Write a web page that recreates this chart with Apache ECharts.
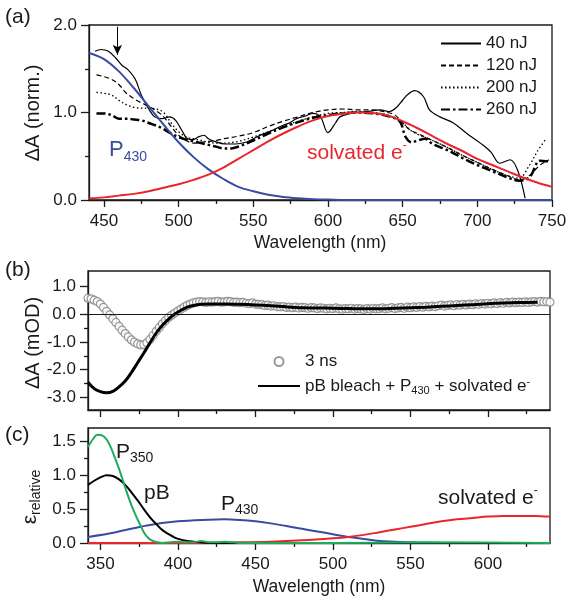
<!DOCTYPE html>
<html><head><meta charset="utf-8">
<script src="https://cdn.jsdelivr.net/npm/echarts@6/dist/echarts.min.js"></script>
<style>html,body{margin:0;padding:0;background:#fff}#c{width:570px;height:601px}</style>
</head><body><div id="c"></div>
<script>
const FONT = '"Liberation Sans", Arial, Helvetica, sans-serif';
const BLUE = '#3a4ba2', RED = '#e8262b', GREEN = '#1eab5c', INK = '#1a1a1a';

// ---------- Panel (a) ----------
const x40 = [444,448,453,458,462,466,471,475,480,484,489,494,498,502,506,510,513,517,520,524,531,538,545,550,556,562,568,574,579,585,590,595,600,605,608,615,620,626,635,641,646,650,653,658,664,668,675,684,693,702,709,715,722,727,732];
const y40 = [1.70,1.72,1.70,1.62,1.54,1.49,1.38,1.20,1.04,0.95,0.93,0.95,0.91,0.80,0.70,0.69,0.72,0.74,0.70,0.67,0.64,0.64,0.66,0.70,0.75,0.79,0.84,0.88,0.93,0.96,0.99,0.95,0.77,0.88,0.95,0.99,1.00,1.01,1.03,1.01,1.06,1.14,1.20,1.25,1.18,1.03,0.95,0.88,0.76,0.65,0.55,0.42,0.46,0.34,0.02];
const x120 = [445,450,455,460,465,470,475,480,485,490,495,500,505,510,515,520,525,530,540,550,560,570,580,590,600,610,620,630,640,645,650,655,660,670,680,690,700,710,720,728,735,742,748];
const y120 = [1.43,1.41,1.38,1.32,1.22,1.16,1.11,1.07,1.02,0.95,0.84,0.74,0.68,0.65,0.66,0.67,0.68,0.70,0.73,0.77,0.84,0.90,0.95,1.00,1.03,1.04,1.03,1.03,1.00,0.97,0.88,0.80,0.76,0.68,0.60,0.51,0.43,0.35,0.28,0.23,0.28,0.40,0.46];
const x200 = [445,450,455,460,465,470,475,480,485,490,495,500,505,510,515,520,525,530,540,550,560,570,580,590,600,610,620,630,640,650,655,660,670,680,690,700,710,720,728,735,740,746];
const y200 = [1.23,1.22,1.20,1.14,1.09,1.06,1.05,1.05,1.04,1.00,0.88,0.78,0.72,0.70,0.68,0.66,0.65,0.65,0.67,0.72,0.78,0.84,0.90,0.95,0.99,1.00,1.01,1.00,0.97,0.88,0.80,0.75,0.68,0.60,0.51,0.43,0.35,0.28,0.25,0.40,0.55,0.70];
const x260 = [445,450,455,460,465,470,475,480,485,490,495,500,505,510,515,520,525,530,535,540,550,560,570,580,590,600,610,620,630,640,648,652,656,660,665,670,680,690,700,710,720,728,735,742,748];
const y260 = [0.99,0.99,0.97,0.93,0.93,0.92,0.91,0.88,0.85,0.81,0.76,0.72,0.69,0.67,0.65,0.63,0.61,0.59,0.59,0.61,0.68,0.76,0.83,0.89,0.94,0.97,0.99,1.00,0.99,0.96,0.90,0.72,0.66,0.68,0.70,0.64,0.57,0.48,0.40,0.33,0.26,0.22,0.26,0.45,0.44];
const xP430a = [440,450,460,470,480,490,500,510,520,530,540,550,560,570,580,590,600,620,650,750];
const yP430a = [1.68,1.61,1.47,1.28,1.07,0.86,0.66,0.49,0.35,0.24,0.15,0.10,0.06,0.035,0.02,0.01,0.005,0,0,0];
const xEa = [440,450,460,470,480,490,500,510,520,530,540,550,560,570,580,590,600,610,620,630,640,650,660,670,680,690,700,710,720,730,740,750];
const yEa = [0.02,0.03,0.05,0.07,0.10,0.14,0.18,0.23,0.29,0.37,0.47,0.57,0.67,0.76,0.84,0.91,0.96,0.985,1.0,0.995,0.965,0.90,0.82,0.73,0.64,0.56,0.47,0.40,0.33,0.26,0.20,0.15];
const arrowX = 459;
const arrowY = [1.98, 1.66];
const legendA = ['40 nJ','120 nJ','200 nJ','260 nJ'];

// ---------- Panel (b) ----------
const x3ns = [342,344,346,348,350,352,354,356,358,360,
  362,364,366,368,370,372,374,376,378,380,
  382,384,386,388,390,392,394,396,398,400,
  402,404,406,408,410,412,414,416,418,420,
  422,424,426,428,430,432,434,436,438,440,
  442,444,446,448,450,452,454,456,458,460,
  462,464,466,468,470,472,474,476,478,480,
  482,484,486,488,490,492,494,496,498,500,
  502,504,506,508,510,512,514,516,518,520,
  522,524,526,528,530,532,534,536,538,540,
  542,544,546,548,550,552,554,556,558,560,
  562,564,566,568,570,572,574,576,578,580,
  582,584,586,588,590,592,594,596,598,600,
  602,604,606,608,610,612,614,616,618,620,
  622,624,626,628,630,632,634,636,638,640];
const y3ns = [0.57,0.55,0.50,0.45,0.36,0.24,0.10,-0.03,-0.17,-0.30,
  -0.44,-0.58,-0.70,-0.82,-0.93,-1.01,-1.07,-1.11,-1.10,-1.03,
  -0.91,-0.77,-0.62,-0.48,-0.35,-0.23,-0.12,-0.04,0.04,0.11,
  0.18,0.25,0.31,0.36,0.40,0.43,0.45,0.44,0.42,0.44,
  0.43,0.45,0.46,0.43,0.44,0.46,0.45,0.42,0.43,0.41,
  0.42,0.39,0.38,0.40,0.36,0.35,0.34,0.31,0.32,0.29,
  0.30,0.27,0.26,0.27,0.24,0.25,0.23,0.25,0.22,0.24,
  0.23,0.21,0.23,0.22,0.20,0.22,0.21,0.19,0.21,0.20,
  0.22,0.19,0.18,0.20,0.19,0.21,0.18,0.20,0.19,0.17,
  0.20,0.18,0.21,0.19,0.20,0.22,0.19,0.21,0.23,0.20,
  0.22,0.24,0.21,0.25,0.23,0.26,0.24,0.27,0.25,0.28,
  0.26,0.29,0.27,0.30,0.32,0.29,0.31,0.33,0.30,0.34,
  0.32,0.35,0.33,0.36,0.34,0.37,0.35,0.38,0.36,0.39,
  0.37,0.40,0.38,0.41,0.39,0.42,0.40,0.43,0.41,0.43,
  0.42,0.44,0.42,0.44,0.45,0.43,0.46,0.44,0.45,0.43];
const xFit = [342,346,350,354,358,362,366,370,374,378,382,386,390,394,398,402,406,410,415,420,430,440,450,460,470,480,490,500,510,520,530,540,550,560,570,580,590,600,610,620,632];
const yFit = [-2.45,-2.68,-2.79,-2.83,-2.78,-2.62,-2.41,-2.10,-1.75,-1.40,-1.03,-0.68,-0.40,-0.18,0.00,0.14,0.25,0.31,0.35,0.36,0.36,0.35,0.33,0.30,0.26,0.23,0.22,0.21,0.20,0.19,0.19,0.21,0.23,0.25,0.28,0.31,0.34,0.37,0.40,0.42,0.43];

// ---------- Panel (c) ----------
const xP350 = [342,345,348,351,354,357,360,363,366,369,372,375,378,381,384,387,390,395,400,405,410,415,420,425,430,440,460,500,560,640];
const yP350 = [1.42,1.53,1.60,1.59,1.53,1.40,1.22,1.03,0.82,0.62,0.45,0.30,0.16,0.07,0.03,0.01,0.00,0.01,0.02,0.01,0.01,0.03,0.01,0.01,0.02,0.00,0.00,0.00,0.01,0.00];
const xPB = [342,346,350,354,358,362,366,370,374,378,382,386,390,394,398,402,406,410,415,420,430,640];
const yPB = [0.86,0.92,0.97,1.00,0.99,0.94,0.86,0.75,0.63,0.50,0.38,0.28,0.19,0.13,0.08,0.05,0.03,0.02,0.01,0.00,0.00,0.00];
const xP430c = [342,360,380,400,420,430,440,450,460,470,480,490,500,510,520,530,540,550,560,580,600,640];
const yP430c = [0.09,0.16,0.26,0.32,0.345,0.35,0.34,0.32,0.29,0.25,0.21,0.17,0.13,0.09,0.06,0.03,0.02,0.01,0.005,0,0,0];
const xEc = [342,400,440,460,480,500,510,520,530,540,550,560,570,580,590,600,610,620,630,640];
const yEc = [0.0,0.0,0.01,0.02,0.04,0.07,0.09,0.12,0.16,0.20,0.24,0.28,0.32,0.35,0.37,0.39,0.40,0.40,0.40,0.39];

// ---------- Ticks ----------
const xMajorA = [450,500,550,600,650,700,750];
const xMinorA = [475,525,575,625,675,725];
const xMajorBC = [350,400,450,500,550,600];
const xMinorBC = [375,425,475,525,575,625];
const yMajorA = [0,1,2], yMinorA = [0.5,1.5];
const yMajorB = [-3,-2,-1,0,1], yMinorB = [-2.5,-1.5,-0.5,0.5];
const yMajorC = [0,0.5,1,1.5], yMinorC = [0.25,0.75,1.25];

const zip = (xs, ys) => xs.map((x, i) => [x, ys[i]]);

function axisPair(grid, min, max, major, minor, labels, fmt, isY) {
  const tickLen = isY ? 8 : 7;
  const pos = isY ? 'left' : 'bottom';
  const main = {
    type: 'value', gridIndex: grid, min: min, max: max, position: pos,
    axisLine: {show: true, onZero: false, lineStyle: {color: INK, width: 1.3}},
    axisTick: {show: true, customValues: major, length: tickLen, lineStyle: {color: INK, width: 1.3}},
    axisLabel: {show: labels, customValues: major, margin: isY ? 12 : 13, fontSize: 17, color: INK, fontFamily: FONT, formatter: fmt},
    splitLine: {show: false}
  };
  const sub = {
    type: 'value', gridIndex: grid, min: min, max: max, position: pos,
    axisLine: {show: false, onZero: false},
    axisTick: {show: true, customValues: minor, length: 4, lineStyle: {color: INK, width: 1.3}},
    axisLabel: {show: false},
    splitLine: {show: false}
  };
  return [main, sub];
}
const f1 = v => v.toFixed(1);
const f0 = v => String(v);

const xAxes = [].concat(
  axisPair(0, 440, 750, xMajorA, xMinorA, true, f0, false),
  axisPair(1, 342, 640, xMajorBC, xMinorBC, false, f0, false),
  axisPair(2, 342, 640, xMajorBC, xMinorBC, true, f0, false)
);
const yAxes = [].concat(
  axisPair(0, 0, 2, yMajorA, yMinorA, true, f1, true),
  axisPair(1, -3.45, 1.55, yMajorB, yMinorB, true, f1, true),
  axisPair(2, 0, 1.7, yMajorC, yMinorC, true, f1, true)
);

function line(name, xs, ys, grid, color, width, type, extra) {
  return Object.assign({
    name: name, type: 'line', xAxisIndex: grid * 2, yAxisIndex: grid * 2,
    data: zip(xs, ys), symbol: 'none', showSymbol: false, smooth: 0.35,
    lineStyle: {color: color, width: width, type: type}, itemStyle: {color: color},
    silent: true, z: 3
  }, extra || {});
}

const series = [
  line('40 nJ', x40, y40, 0, '#000', 1.2, 'solid', {
    markLine: {
      silent: true, symbol: ['none', 'arrow'], symbolSize: [7, 10],
      lineStyle: {color: '#000', width: 1, type: 'solid'}, label: {show: false},
      data: [[{coord: [arrowX, arrowY[0]]}, {coord: [arrowX, arrowY[1]]}]]
    }
  }),
  line('120 nJ', x120, y120, 0, '#000', 1.2, [5, 3]),
  line('200 nJ', x200, y200, 0, '#000', 1.3, [1.5, 2.5]),
  line('260 nJ', x260, y260, 0, '#000', 2.5, [9, 3, 2.5, 3]),
  line('P430a', xP430a, yP430a, 0, BLUE, 2, 'solid', {z: 4}),
  line('ea', xEa, yEa, 0, RED, 2, 'solid', {z: 4}),
  {
    name: '3 ns', type: 'scatter', xAxisIndex: 2, yAxisIndex: 2, data: zip(x3ns, y3ns),
    symbol: 'circle', symbolSize: 8, silent: true, clip: true,
    itemStyle: {color: '#fff', borderColor: '#808080', borderWidth: 1.2}, z: 2
  },
  line('fit', xFit, yFit, 1, '#000', 3, 'solid', {
    z: 4,
    markLine: {
      silent: true, symbol: ['none', 'none'], label: {show: false},
      lineStyle: {color: INK, width: 1, type: 'solid'}, data: [{yAxis: 0}]
    }
  }),
  line('P430c', xP430c, yP430c, 2, BLUE, 2, 'solid'),
  line('ec', xEc, yEc, 2, RED, 2, 'solid'),
  line('pB', xPB, yPB, 2, '#000', 2, 'solid'),
  line('P350', xP350, yP350, 2, GREEN, 2, 'solid', {smooth: 0.25})
];

const subRich = (big, small, color) => ({
  p: {fontSize: big, fontFamily: FONT, fill: color, lineHeight: big + 6},
  s: {fontSize: small, fontFamily: FONT, fill: color, verticalAlign: 'bottom'},
  u: {fontSize: small - 2, fontFamily: FONT, fill: color, verticalAlign: 'top'}
});
function txt(x, y, text, size, color, rot, align) {
  return {
    type: 'text', x: x, y: y, silent: true, rotation: rot || 0,
    style: {text: text, fontSize: size, fontFamily: FONT, fill: color, align: align || 'left', verticalAlign: 'middle'}
  };
}
function richTxt(x, y, text, big, small, color, rot, align) {
  return {
    type: 'text', x: x, y: y, silent: true, rotation: rot || 0,
    style: {text: text, fill: color, align: align || 'left', verticalAlign: 'middle', rich: subRich(big, small, color)}
  };
}

const graphics = [
  txt(5, 17, '(a)', 21, INK),
  txt(5, 270, '(b)', 21, INK),
  txt(5, 435, '(c)', 21, INK),
  txt(33, 113, 'ΔA (norm.)', 20, INK, Math.PI / 2, 'center'),
  txt(33, 343, 'ΔA (mOD)', 20, INK, Math.PI / 2, 'center'),
  richTxt(30, 497, '{p|ε}{s|relative}', 21, 14, INK, Math.PI / 2, 'center'),
  txt(320, 243, 'Wavelength (nm)', 17.5, INK, 0, 'center'),
  txt(319, 587, 'Wavelength (nm)', 17.5, INK, 0, 'center'),
  richTxt(109, 150, '{p|P}{s|430}', 22, 14, BLUE),
  richTxt(307, 153, '{p|solvated e}{u|-}', 21, 14, RED),
  richTxt(116, 452, '{p|P}{s|350}', 21, 14, INK),
  richTxt(144, 493, '{p|pB}', 21, 14, INK),
  richTxt(221, 504, '{p|P}{s|430}', 21, 14, INK),
  richTxt(438, 498, '{p|solvated e}{u|-}', 21, 14, INK)
];

const hideSym = {opacity: 0};
const option = {
  animation: false,
  backgroundColor: '#fff',
  textStyle: {fontFamily: FONT, color: INK},
  grid: [
    {left: 89, top: 25, width: 463, height: 175, show: true, borderColor: INK, borderWidth: 1.3, backgroundColor: 'transparent'},
    {left: 88, top: 271, width: 462, height: 139, show: true, borderColor: INK, borderWidth: 1.3, backgroundColor: 'transparent'},
    {left: 88, top: 428, width: 462, height: 115, show: true, borderColor: INK, borderWidth: 1.3, backgroundColor: 'transparent'}
  ],
  xAxis: xAxes,
  yAxis: yAxes,
  legend: [
    {
      data: legendA.map(n => ({name: n, itemStyle: hideSym})),
      orient: 'vertical', left: 440, top: 35, itemWidth: 40, itemHeight: 14, itemGap: 5, padding: 0,
      selectedMode: false, textStyle: {fontSize: 17, color: INK, fontFamily: FONT}
    },
    {
      data: [{name: '3 ns'}, {name: 'fit', itemStyle: hideSym}],
      orient: 'vertical', left: 257, top: 353, itemWidth: 42, itemHeight: 9, itemGap: 6, padding: 0,
      selectedMode: false,
      formatter: n => n === 'fit' ? '{a|pB bleach + P}{s|430}{a| + solvated e}{u|-}' : '{a|' + n + '}',
      textStyle: {fontSize: 17, color: INK, fontFamily: FONT,
        rich: {a: {fontSize: 17, fontFamily: FONT, lineHeight: 20}, s: {fontSize: 11, fontFamily: FONT, verticalAlign: 'bottom'}, u: {fontSize: 11, fontFamily: FONT, verticalAlign: 'top'}}}
    }
  ],
  series: series,
  graphic: graphics
};

const chart = echarts.init(document.getElementById('c'), null, {renderer: 'canvas'});
chart.setOption(option);
</script>
</body></html>
